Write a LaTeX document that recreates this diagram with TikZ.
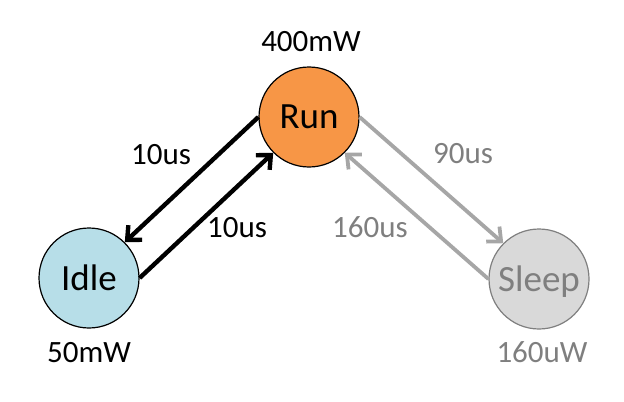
\documentclass[tikz,border=0pt]{standalone}
\usepackage{fontspec}
\setmainfont{Carlito}
\usetikzlibrary{arrows.meta}
\definecolor{runorange}{RGB}{247,150,70}
\definecolor{idleblue}{RGB}{183,222,232}
\definecolor{sleepgray}{RGB}{217,217,217}
\definecolor{linegray}{RGB}{166,166,166}
\definecolor{textgray}{RGB}{127,127,127}

\tikzset{
	state/.style={circle, draw, line width=0.6pt, minimum size=50pt, inner sep=0pt, text depth=0pt, font=\fontsize{18.5}{20}\selectfont},
	lbl/.style={anchor=base, font=\fontsize{15.5}{18}\selectfont},
	trans/.style={line width=2.2pt, -{Straight Barb[length=5.5pt,width=10pt]}}
}

\begin{document}
\begin{tikzpicture}[x=0.5pt,y=-0.5pt]
	\useasboundingbox (0,0) rectangle (624,401);
	% stati
	\node[state, fill=runorange] (run) at (309,117) {Run};
	\node[state, fill=idleblue] (idle) at (89,278) {Idle};
	\node[state, fill=sleepgray, draw=textgray, text=textgray] (sleep) at (539,279) {Sleep};
	% potenze
	\node[lbl] (prun) at (311,52) {400mW};
	\node[lbl] (pidle) at (89,362) {50mW};
	\node[lbl, text=textgray] (psleep) at (542,362) {160uW};
	% transizioni run - idle
	\draw[trans] (run.west) -- (idle.45);
	\draw[trans] (idle.east) -- (run.-135);
	\node[lbl] (tri) at (161,164) {10us};
	\node[lbl] (tir) at (237,237) {10us};
	% transizioni run - sleep
	\draw[trans, linegray, line width=1.9pt] (run.east) -- (sleep.135);
	\draw[trans, linegray, line width=1.9pt] (sleep.west) -- (run.-45);
	\node[lbl, text=textgray] (trs) at (463,163) {90us};
	\node[lbl, text=textgray] (tsr) at (370,237) {160us};
\end{tikzpicture}
\end{document}
